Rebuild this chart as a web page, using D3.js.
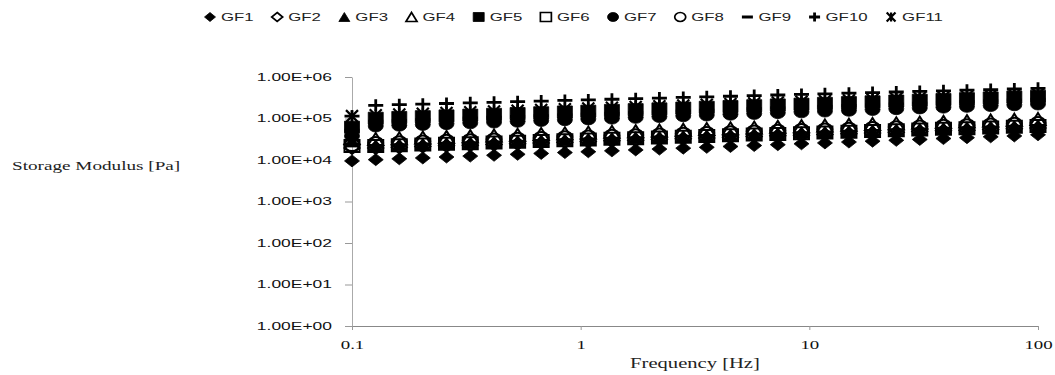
<!DOCTYPE html>
<html>
<head>
<meta charset="utf-8">
<script src="https://cdn.jsdelivr.net/npm/d3@7"></script>
<style>
  body { margin: 0; background: #fff; }
  svg { display: block; }
</style>
</head>
<body>
<svg id="chart" width="1055" height="375"></svg>
<script>
// frequency sweep points [Hz]
const freq = [0.1, 0.127, 0.161, 0.204, 0.259, 0.329, 0.418, 0.530, 0.672, 0.853,
  1.08, 1.37, 1.74, 2.21, 2.81, 3.56, 4.52, 5.74, 7.28, 9.24,
  11.7, 14.9, 18.9, 24.0, 30.4, 38.6, 48.9, 62.1, 78.8, 100];

const seriesNames = ["GF1", "GF2", "GF3", "GF4", "GF5", "GF6", "GF7", "GF8", "GF9", "GF10", "GF11"];

// storage modulus G' [Pa]
const gf1 = [9500, 10200, 10700, 11200, 11800, 12400, 13000, 13700, 14400, 15100, 15800, 16600, 17500, 18300, 19300,
  20200, 21200, 22300, 23400, 24600, 25800, 27100, 28400, 29800, 31300, 32900, 34500, 36200, 38000, 40500];
const gf2 = [19500, 19500, 20300, 21100, 21900, 22800, 23700, 24700, 25700, 26700, 27800, 28900, 30100, 31300, 32600,
  33900, 35200, 36700, 38200, 39700, 41300, 43000, 44700, 46500, 48400, 50400, 52400, 54500, 56700, 59000];
const gf3 = [28700, 22400, 23300, 24200, 25200, 26200, 27300, 28400, 29500, 30700, 31900, 33200, 34600, 36000, 37400,
  39000, 40500, 42200, 43900, 45700, 47500, 49400, 51400, 53500, 55700, 57900, 60200, 62700, 65200, 67800];
const gf4 = [33900, 32100, 33400, 34700, 36100, 37600, 39100, 40700, 42300, 44000, 45800, 47700, 49600, 51600, 53700,
  55900, 58100, 60500, 62900, 65500, 68100, 70900, 73700, 76700, 79800, 83000, 86400, 89900, 93500, 97300];
const gf5 = [61800, 101600, 106100, 110800, 115700, 120900, 126200, 131800, 137700, 143800, 150200, 156900, 163800, 171100, 178700,
  186600, 194900, 203600, 212600, 222000, 231900, 242200, 252900, 264200, 275900, 288100, 300900, 314300, 328300, 342800];
const gf6 = [21700, 21800, 22600, 23500, 24500, 25500, 26500, 27600, 28700, 29800, 31100, 32300, 33600, 35000, 36400,
  37900, 39400, 41000, 42600, 44400, 46200, 48100, 50000, 52000, 54100, 56300, 58600, 61000, 63400, 66000];
const gf7 = [37900, 66000, 68900, 72000, 75200, 78600, 82100, 85700, 89600, 93500, 97700, 102100, 106600, 111400, 116300,
  121500, 126900, 132600, 138500, 144600, 151100, 157800, 164900, 172200, 179900, 187900, 196200, 205000, 214100, 223700];
const gf8 = [23000, 25700, 26800, 27800, 28900, 30100, 31300, 32600, 33900, 35200, 36700, 38200, 39700, 41300, 43000,
  44800, 46500, 48500, 50400, 52500, 54500, 56800, 59000, 61400, 63900, 66500, 69200, 72000, 74900, 77900];
const gf9 = [52000, 86100, 89900, 93900, 98100, 102500, 107000, 111800, 116700, 121900, 127300, 133000, 138900, 145000, 151500,
  158200, 165200, 172500, 180200, 188200, 196600, 205300, 214400, 223900, 233900, 244300, 255100, 266400, 278200, 290600];
const gf10 = [114000, 208000, 215000, 222000, 230000, 238000, 246000, 254000, 263000, 272000, 281000, 291000, 301000, 311000, 322000,
  333000, 344000, 356000, 368000, 380000, 393000, 407000, 421000, 435000, 450000, 465000, 481000, 498000, 514000, 532000];
const gf11 = [114000, 120000, 125100, 130300, 135800, 141600, 147600, 153800, 160300, 167100, 174200, 181500, 189200, 197200, 205500,
  214200, 223300, 232700, 242600, 252800, 263500, 274700, 286300, 298400, 311000, 324200, 337900, 352200, 367100, 382600];

const yTickValues = [1, 10, 100, 1000, 10000, 100000, 1000000];
const yTickLabels = ["1.00E+00", "1.00E+01", "1.00E+02", "1.00E+03", "1.00E+04", "1.00E+05", "1.00E+06"];
const xTickValues = [0.1, 1, 10, 100];
const xTickLabels = ["0.1", "1", "10", "100"];
const xTitle = "Frequency [Hz]";
const yTitle = "Storage Modulus [Pa]";

const series = [gf1, gf2, gf3, gf4, gf5, gf6, gf7, gf8, gf9, gf10, gf11];

// excel-like marker for each series (open = outline only, no fill)
const markers = [
  { shape: "diamond", open: false },
  { shape: "diamond", open: true },
  { shape: "triangle", open: false },
  { shape: "triangle", open: true },
  { shape: "square", open: false },
  { shape: "square", open: true },
  { shape: "circle", open: false },
  { shape: "circle", open: true },
  { shape: "dash", open: false },
  { shape: "plus", open: false },
  { shape: "star", open: false },
];

const svg = d3.select("#chart");
const sans = "'Liberation Sans', Arial, sans-serif";
const serif = "'Liberation Serif', 'Times New Roman', serif";

const x = d3.scaleLog().domain([0.1, 100]).range([352, 1038]);
const y = d3.scaleLog().domain([1, 1e6]).range([326, 77]);

// the original picture is stretched sideways, so widen every text
function stretch(sel, k) {
  sel.each(function () {
    const len = this.getComputedTextLength();
    d3.select(this).attr("textLength", len * k).attr("lengthAdjust", "spacingAndGlyphs");
  });
}

function markerPath(shape, w, h) {
  const a = w / 2, b = h / 2;
  switch (shape) {
    case "diamond": return `M0,${-b}L${a},0L0,${b}L${-a},0Z`;
    case "triangle": return `M0,${-b}L${a},${b}L${-a},${b}Z`;
    case "square": return `M${-a},${-b}H${a}V${b}H${-a}Z`;
    case "circle": return `M${-a},0A${a},${b} 0 1,0 ${a},0A${a},${b} 0 1,0 ${-a},0Z`;
    case "dash": return `M${-a},-1.5H${a}V1.5H${-a}Z`;
    case "plus": {
      const t = 1.4;
      return `M${-a},${-t}H${-t}V${-b}H${t}V${-t}H${a}V${t}H${t}V${b}H${-t}V${t}H${-a}Z`;
    }
    case "star": {
      const c = a * 0.8;
      return `M${-c},${-b}L${c},${b}M${c},${-b}L${-c},${b}M0,${-b}V${b}`;
    }
  }
}

function drawMarker(g, m, w, h, sw) {
  const p = g.append("path").attr("d", markerPath(m.shape, w, h));
  if (m.shape === "star") {
    p.attr("fill", "none").attr("stroke", "#000").attr("stroke-width", 2.2);
  } else if (m.open) {
    p.attr("fill", "none").attr("stroke", "#000").attr("stroke-width", sw);
  } else {
    p.attr("fill", "#000").attr("stroke", m.shape === "plus" || m.shape === "dash" ? "none" : "#000").attr("stroke-width", 0.8);
  }
  return p;
}

// axes
const yAxis = d3.axisLeft(y)
  .tickValues(yTickValues)
  .tickFormat((d, i) => yTickLabels[i])
  .tickSize(7)
  .tickSizeOuter(0)
  .tickPadding(13);

const gy = svg.append("g").attr("transform", `translate(${x(0.1)},0)`).call(yAxis);
gy.select(".domain").attr("stroke", "#aaa");
gy.selectAll(".tick line").attr("stroke", "#999");
gy.selectAll(".tick text")
  .attr("font-family", sans)
  .attr("font-size", 10.5)
  .attr("fill", "#111");
stretch(gy.selectAll(".tick text"), 1.66);

const xAxis = d3.axisBottom(x)
  .tickValues(xTickValues)
  .tickFormat((d, i) => xTickLabels[i])
  .tickSize(4)
  .tickSizeOuter(0)
  .tickPadding(10);

const gx = svg.append("g").attr("transform", `translate(0,${y(1)})`).call(xAxis);
gx.select(".domain").attr("stroke", "#888");
gx.selectAll(".tick line").attr("stroke", "#999");
gx.selectAll(".tick text")
  .attr("font-family", serif)
  .attr("font-size", 13)
  .attr("fill", "#111");
stretch(gx.selectAll(".tick text"), 1.45);

// axis titles
const xt = svg.append("text")
  .attr("x", (x.range()[0] + x.range()[1]) / 2)
  .attr("y", 368)
  .attr("text-anchor", "middle")
  .attr("font-family", serif)
  .attr("font-size", 14)
  .attr("fill", "#222")
  .text(xTitle);
stretch(xt, 1.47);

const yt = svg.append("text")
  .attr("x", 12)
  .attr("y", 170)
  .attr("font-family", serif)
  .attr("font-size", 13.5)
  .attr("fill", "#222")
  .text(yTitle);
stretch(yt, 1.42);

// points, drawn in series order like the spreadsheet does
series.forEach((vals, si) => {
  const g = svg.append("g").attr("class", `series-${seriesNames[si]}`);
  vals.forEach((v, i) => {
    const mg = g.append("g").attr("transform", `translate(${x(freq[i])},${y(v)})`);
    drawMarker(mg, markers[si], 15, 12, 2);
  });
});

// legend
const legend = svg.append("g").attr("class", "legend").attr("transform", "translate(0,17)");
let cx = 210;
seriesNames.forEach((name, i) => {
  const mg = legend.append("g").attr("transform", `translate(${cx},0)`);
  drawMarker(mg, markers[i], 11, 9, 1.7);
  const t = legend.append("text")
    .attr("x", cx + 11)
    .attr("y", 0)
    .attr("dy", "0.36em")
    .attr("font-family", sans)
    .attr("font-size", 10.5)
    .attr("fill", "#222")
    .text(name);
  const w = t.node().getComputedTextLength() * 1.6;
  t.attr("textLength", w).attr("lengthAdjust", "spacingAndGlyphs");
  cx += 11 + w + 23.5;
});
</script>
</body>
</html>
